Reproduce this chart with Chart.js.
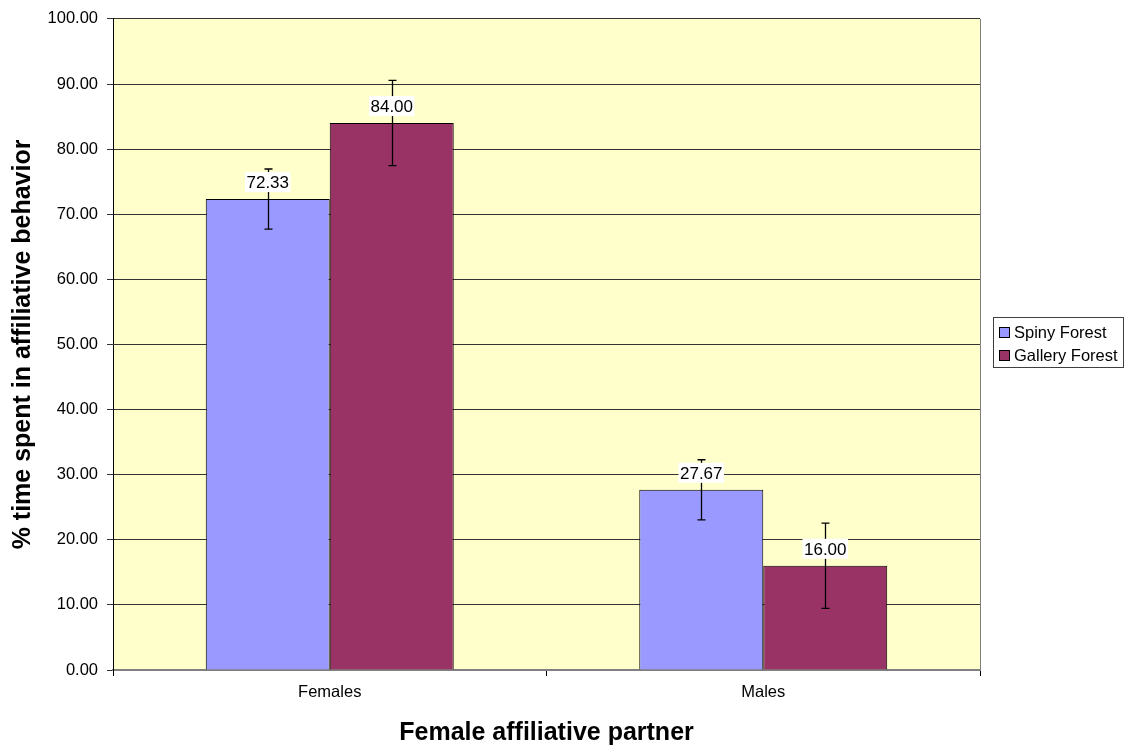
<!DOCTYPE html>
<html>
<head>
<meta charset="utf-8">
<script src="https://cdn.jsdelivr.net/npm/chart.js@4/dist/chart.umd.min.js"></script>
<style>
  html, body { margin: 0; padding: 0; background: #fff; }
  #wrap { width: 1125px; height: 749px; }
</style>
</head>
<body>
<div id="wrap"><canvas id="affChart" width="1125" height="749"></canvas></div>
<script>
// Data
const categories = ['Females', 'Males'];
const seriesNames = ['Spiny Forest', 'Gallery Forest'];
const spinyValues = [72.33, 27.67];
const galleryValues = [84.00, 16.00];
const spinyErrors = [4.62, 4.62];
const galleryErrors = [6.55, 6.55];
const yTicks = [0, 10, 20, 30, 40, 50, 60, 70, 80, 90, 100];

const FONT = "'Liberation Sans', Arial, sans-serif";
const colors = ['#9999FF', '#993366'];
const errors = [spinyErrors, galleryErrors];

// Plot background + right border
const plotBg = {
    id: 'plotBg',
    beforeDraw(chart) {
        const a = chart.chartArea, c = chart.ctx;
        c.save();
        c.fillStyle = '#FFFFCC';
        c.fillRect(a.left, a.top, a.right - a.left, a.bottom - a.top);
        c.restore();
    },
    afterDraw(chart) {
        const a = chart.chartArea, c = chart.ctx;
        c.save();
        c.strokeStyle = '#808080';
        c.lineWidth = 1;
        c.beginPath();
        c.moveTo(Math.round(a.right) + 0.5, a.top);
        c.lineTo(Math.round(a.right) + 0.5, a.bottom);
        c.stroke();
        c.restore();
    }
};

// Error bars and value labels
const barExtras = {
    id: 'barExtras',
    afterDatasetsDraw(chart) {
        const c = chart.ctx, y = chart.scales.y;
        c.save();
        c.strokeStyle = '#000';
        c.lineWidth = 1.3;
        chart.data.datasets.forEach((ds, i) => {
            chart.getDatasetMeta(i).data.forEach((bar, j) => {
                const v = ds.data[j], e = errors[i][j];
                const x = Math.round(bar.x) + 0.5;
                const top = y.getPixelForValue(v + e);
                const bot = y.getPixelForValue(v - e);
                c.beginPath();
                c.moveTo(x, top); c.lineTo(x, bot);
                c.moveTo(x - 4, top); c.lineTo(x + 4, top);
                c.moveTo(x - 4, bot); c.lineTo(x + 4, bot);
                c.stroke();
            });
        });
        c.font = '17px ' + FONT;
        c.textAlign = 'center';
        c.textBaseline = 'middle';
        chart.data.datasets.forEach((ds, i) => {
            chart.getDatasetMeta(i).data.forEach((bar, j) => {
                const txt = ds.data[j].toFixed(2);
                const w = c.measureText(txt).width + 3;
                const cy = bar.y - 17;
                c.fillStyle = '#fff';
                c.fillRect(bar.x - w / 2, cy - 10, w, 20);
                c.fillStyle = '#000';
                c.fillText(txt, bar.x, cy + 1);
            });
        });
        c.restore();
    }
};

// Legend box on the right
const boxLegend = {
    id: 'boxLegend',
    afterDraw(chart) {
        const c = chart.ctx;
        const bx = 993, by = 317, bw = 131, bh = 51;
        c.save();
        c.fillStyle = '#fff';
        c.fillRect(bx, by, bw, bh);
        c.strokeStyle = '#404040';
        c.lineWidth = 1;
        c.strokeRect(bx + 0.5, by + 0.5, bw - 1, bh - 1);
        c.font = '16.5px ' + FONT;
        c.textBaseline = 'middle';
        c.textAlign = 'left';
        seriesNames.forEach((name, i) => {
            const cy = by + 15 + i * 23;
            c.fillStyle = colors[i];
            c.fillRect(999, cy - 5, 11, 11);
            c.strokeStyle = '#000';
            c.strokeRect(999.5, cy - 4.5, 10, 10);
            c.fillStyle = '#000';
            c.fillText(name, 1014, cy + 1);
        });
        c.restore();
    }
};

const ctx = document.getElementById('affChart').getContext('2d');
const affChart = new Chart(ctx, {
    type: 'bar',
    data: {
        labels: categories,
        datasets: [
            { label: seriesNames[0], data: spinyValues, backgroundColor: colors[0], borderColor: '#000', borderWidth: 1 },
            { label: seriesNames[1], data: galleryValues, backgroundColor: colors[1], borderColor: '#000', borderWidth: 1 }
        ]
    },
    options: {
        responsive: false,
        animation: false,
        categoryPercentage: 0.572,
        barPercentage: 1,
        layout: { padding: { left: 0, top: 16, right: 145, bottom: 0 } },
        plugins: {
            legend: { display: false },
            tooltip: { enabled: false }
        },
        scales: {
            x: {
                grid: { drawOnChartArea: false, tickLength: 6, color: '#000' },
                border: { color: '#808080', width: 2 },
                ticks: { color: '#000', padding: 7, font: { family: FONT, size: 16.5 } },
                title: {
                    display: true, text: 'Female affiliative partner', color: '#000',
                    font: { family: FONT, size: 25, weight: 'bold' }, padding: { top: 0, bottom: 1 }
                },
                afterFit(s) { s.height = 79; }
            },
            y: {
                min: 0, max: 100,
                afterBuildTicks(s) { s.ticks = yTicks.map(v => ({ value: v })); },
                grid: { color: '#333', tickLength: 6 },
                border: { color: '#000', width: 1 },
                ticks: {
                    color: '#000', padding: 9, font: { family: FONT, size: 16.5 },
                    callback: v => Number(v).toFixed(2)
                },
                title: {
                    display: true, text: '% time spent in affiliative behavior', color: '#000',
                    font: { family: FONT, size: 25, weight: 'bold' }, padding: { top: 8, bottom: 0 }
                },
                afterFit(s) { s.width = 113; }
            }
        }
    },
    plugins: [plotBg, barExtras, boxLegend]
});
</script>
</body>
</html>
